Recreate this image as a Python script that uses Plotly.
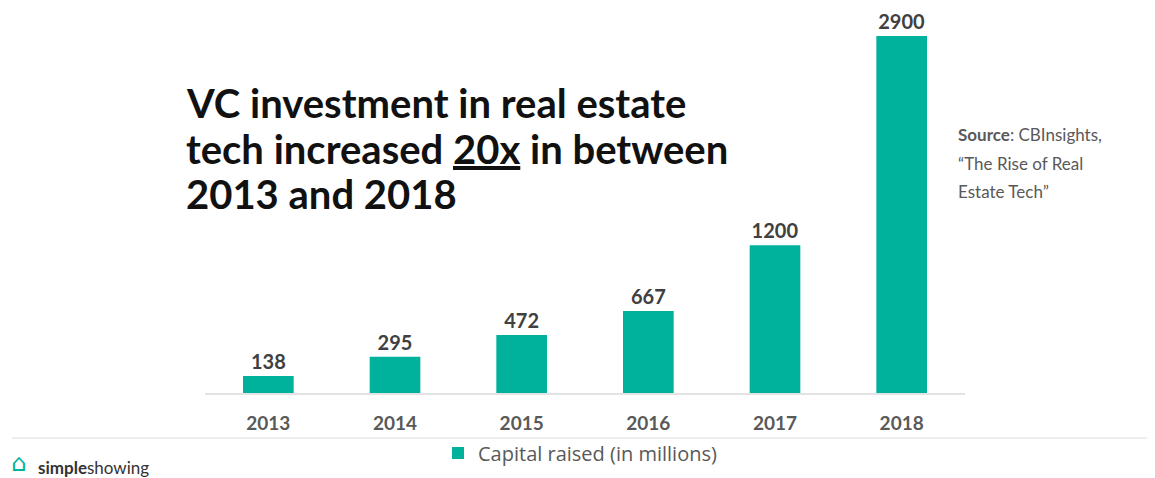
import plotly.graph_objects as go

# Data
years = ['2013', '2014', '2015', '2016', '2017', '2018']
capital = [138, 295, 472, 667, 1200, 2900]
series_name = 'Capital raised (in millions)'
title_lines = ['VC investment in real estate',
               'tech increased <u>20x</u> in between',
               '2013 and 2018']
source_lines = ['<b>Source</b>: CBInsights,',
                '\u201cThe Rise of Real',
                'Estate Tech\u201d']

teal = 'rgb(0,178,155)'
grey_txt = '#404040'

fig = go.Figure()
fig.add_trace(go.Bar(
    x=years,
    y=capital,
    name=series_name,
    marker=dict(color=teal, line=dict(width=0)),
    text=[str(v) for v in capital],
    textposition='outside',
    textfont=dict(family='Lato', size=20, color=grey_txt),
    texttemplate='<b>%{text}</b>',
    cliponaxis=False,
))

# page has an 8px body margin, so the figure is shrunk by that much
OFF = 8
W, H = 1155 - OFF, 478 - OFF
L, R, T, B = 197, 190, 10, 85
pw, ph = W - L - R, H - T - B


def px_x(x):
    # x in screenshot pixels -> paper
    return (x - OFF - L) / pw


def px_y(y):
    # y in screenshot pixels -> paper
    return (H - B - (y - OFF)) / ph


fig.update_layout(
    width=W, height=H,
    margin=dict(l=L, r=R, t=T, b=B, autoexpand=False),
    paper_bgcolor='white',
    plot_bgcolor='white',
    bargap=0.6,
    showlegend=True,
    legend=dict(
        orientation='h',
        x=px_x(580), xanchor='center',
        y=px_y(453), yanchor='middle',
        bgcolor='rgba(0,0,0,0)',
        font=dict(family='Open Sans', size=20, color='#595959'),
    ),
    xaxis=dict(
        showline=True, linecolor='#e3e3e3', linewidth=2,
        showgrid=False, zeroline=False,
        tickfont=dict(family='Lato', size=19, color='#595959', weight='bold'),
        ticklabelstandoff=12,
        fixedrange=True,
    ),
    yaxis=dict(
        range=[0, 3046],
        visible=False,
        showgrid=False,
        fixedrange=True,
    ),
)

# Title, one annotation per line
for line, yc in zip(title_lines, [103, 149, 194]):
    fig.add_annotation(
        xref='paper', yref='paper',
        x=px_x(184), y=px_y(yc),
        xanchor='left', yanchor='middle', align='left',
        showarrow=False,
        text='<b>' + line + '</b>',
        font=dict(family='Lato', size=40, color='#111111'),
    )

# Source text
for line, yc in zip(source_lines, [134, 163, 191]):
    fig.add_annotation(
        xref='paper', yref='paper',
        x=px_x(956), y=px_y(yc),
        xanchor='left', yanchor='middle', align='left',
        showarrow=False,
        text=line,
        font=dict(family='Lato', size=17, color='#595959'),
    )

# Logo
fig.add_annotation(
    xref='paper', yref='paper',
    x=px_x(10), y=px_y(463),
    xanchor='left', yanchor='middle',
    showarrow=False,
    text='\u2302',
    font=dict(family='DejaVu Sans', size=24, color=teal),
    borderpad=0,
)
fig.add_annotation(
    xref='paper', yref='paper',
    x=px_x(36), y=px_y(467),
    xanchor='left', yanchor='middle',
    showarrow=False,
    text='<b>simple</b>showing',
    font=dict(family='Lato', size=17, color='#333333'),
)

# Divider line near bottom
fig.add_shape(
    type='line', xref='paper', yref='paper',
    x0=px_x(12), x1=px_x(1153), y0=px_y(438), y1=px_y(438),
    line=dict(color='#eeeeee', width=2),
)

fig.write_html('out.html')
